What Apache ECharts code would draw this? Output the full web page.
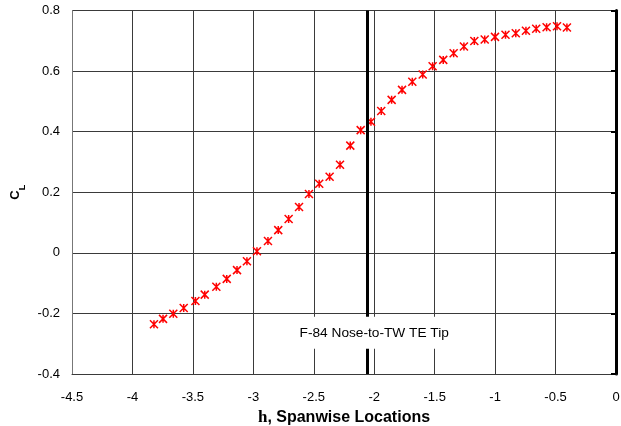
<!DOCTYPE html>
<html>
<head>
<meta charset="utf-8">
<script src="https://cdn.jsdelivr.net/npm/echarts@6/dist/echarts.min.js"></script>
<style>
  html, body { margin: 0; padding: 0; background: #fff; }
  #chart { width: 621px; height: 426px; }
</style>
</head>
<body>
<div id="chart"></div>
<script>
// Spanwise station (eta) and lift coefficient along the span
const spanwise = [
  -3.822, -3.747, -3.662, -3.576, -3.479, -3.402, -3.306, -3.220, -3.135, -3.053,
  -2.970, -2.879, -2.794, -2.708, -2.622, -2.540, -2.455, -2.369, -2.283, -2.198,
  -2.112, -2.027, -1.942, -1.856, -1.770, -1.685, -1.599, -1.517, -1.429, -1.343,
  -1.258, -1.172, -1.086, -1.001, -0.914, -0.829, -0.745, -0.660, -0.574, -0.488,
  -0.406
];
const liftCoef = [
  -0.236, -0.218, -0.201, -0.182, -0.159, -0.138, -0.112, -0.086, -0.057, -0.028,
   0.005,  0.039,  0.075,  0.112,  0.151,  0.194,  0.228,  0.251,  0.291,  0.354,
   0.405,  0.433,  0.468,  0.505,  0.538,  0.565,  0.589,  0.616,  0.637,  0.659,
   0.681,  0.699,  0.704,  0.713,  0.720,  0.725,  0.733,  0.740,  0.745,  0.748,
   0.744
];

// Reference station: F-84 nose to tip-wing trailing-edge tip
const tipStation = -2.06;
const tipLabel = 'F-84 Nose-to-TW TE Tip';
const tipLabelAnchor = [-2.0, -0.264];

const xTicks = { min: -4.5, max: 0, interval: 0.5 };
const yTicks = { min: -0.4, max: 0.8, interval: 0.2 };

const points = spanwise.map((x, i) => [x, liftCoef[i]]);

const FONT = '"Liberation Sans", Arial, sans-serif';
const gridLine = { show: true, lineStyle: { color: '#3a3a3a', width: 1 } };

const chart = echarts.init(document.getElementById('chart'), null, { renderer: 'canvas' });
chart.setOption({
  animation: false,
  backgroundColor: '#fff',
  grid: { left: 72, right: 5, top: 10.5, bottom: 52, containLabel: false, outerBoundsMode: 'none' },
  xAxis: {
    type: 'value',
    min: xTicks.min, max: xTicks.max, interval: xTicks.interval,
    axisLine: { show: true, onZero: false, lineStyle: { color: '#3a3a3a', width: 1 } },
    axisTick: { show: false },
    splitLine: gridLine,
    axisLabel: { color: '#000', fontFamily: FONT, fontSize: 13, margin: 17 },
    name: '{e|h}{t|, Spanwise Locations}',
    nameLocation: 'middle',
    nameGap: 25,
    nameTextStyle: {
      rich: {
        e: { fontFamily: '"Liberation Serif", "DejaVu Serif", serif', fontWeight: 'bold', fontSize: 17, color: '#000' },
        t: { fontFamily: FONT, fontWeight: 'bold', fontSize: 16, color: '#000' }
      }
    }
  },
  yAxis: [{
    type: 'value',
    min: yTicks.min, max: yTicks.max, interval: yTicks.interval,
    axisLine: { show: true, onZero: false, lineStyle: { color: '#777', width: 1 } },
    axisTick: { show: false },
    splitLine: gridLine,
    axisLabel: { color: '#000', fontFamily: FONT, fontSize: 13, margin: 12 },
    name: '{c|C}{s|L}',
    nameLocation: 'middle',
    nameRotate: 90,
    nameGap: 45,
    nameTextStyle: {
      rich: {
        c: { fontFamily: FONT, fontWeight: 'bold', fontSize: 13, color: '#000', lineHeight: 18, verticalAlign: 'top' },
        s: { fontFamily: FONT, fontWeight: 'bold', fontSize: 9, color: '#000', lineHeight: 18, verticalAlign: 'bottom' }
      }
    }
  }, {
    type: 'value',
    position: 'right',
    min: yTicks.min, max: yTicks.max, interval: yTicks.interval,
    axisLine: { show: true, onZero: false, lineStyle: { color: '#000', width: 3 } },
    axisTick: { show: true, inside: true, length: 5, lineStyle: { color: '#000', width: 2 } },
    axisLabel: { show: false },
    splitLine: { show: false }
  }],
  series: [{
    name: 'CL',
    type: 'scatter',
    data: points,
    symbol: 'path://M0,0L10,10M10,0L0,10M5,0L5,10',
    symbolSize: 8,
    itemStyle: { color: 'rgba(0,0,0,0)', borderColor: '#ff0000', borderWidth: 1.5, opacity: 1 },
    z: 3,
    markLine: {
      silent: true,
      symbol: 'none',
      label: { show: false },
      lineStyle: { color: '#000', width: 3, type: 'solid', opacity: 1 },
      data: [{ xAxis: tipStation }]
    }
  }, {
    name: 'tip label',
    type: 'scatter',
    data: [tipLabelAnchor],
    symbolSize: 0,
    z: 10,
    silent: true,
    itemStyle: { opacity: 1 },
    label: {
      show: true,
      position: 'inside',
      formatter: tipLabel,
      color: '#000',
      opacity: 1,
      fontFamily: FONT,
      fontSize: 13.7,
      backgroundColor: '#fff',
      padding: [9, 4]
    }
  }]
});
</script>
</body>
</html>
